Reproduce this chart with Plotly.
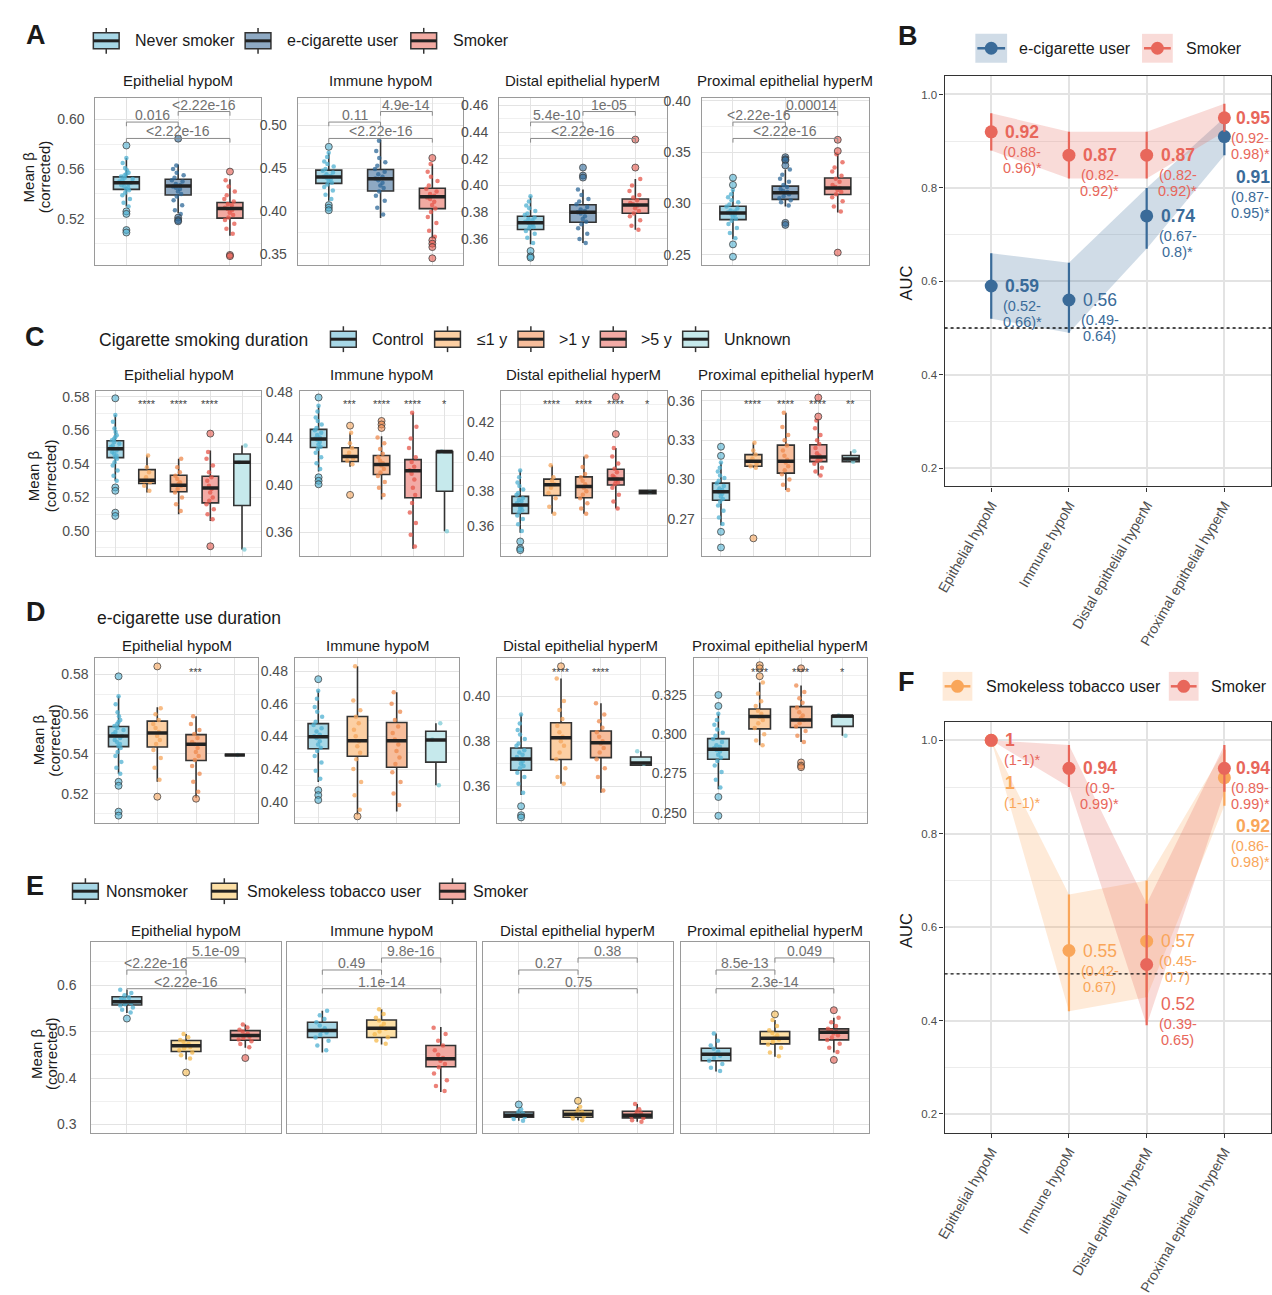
import plotly.graph_objects as go

W, H = 1272, 1295
FONT = "Liberation Sans, Arial, Helvetica, sans-serif"
TXT = "#1a1a1a"
TICK = "#4d4d4d"
GRID = "#e3e3e3"
GRID_MINOR = "#f0f0f0"
BORDER = "#9a9a9a"
BOXLINE = "#333333"

MODULES = ["Epithelial hypoM", "Immune hypoM", "Distal epithelial hyperM", "Proximal epithelial hyperM"]

# ---------------------------------------------------------------------------
# Box summaries: [lower whisker, Q1, median, Q3, upper whisker] per module
# ---------------------------------------------------------------------------
NEVER_BOX = [[0.530, 0.5437, 0.549, 0.5538, 0.569],
             [0.412, 0.4324, 0.4397, 0.4478, 0.468],
             [0.356, 0.3671, 0.3721, 0.3770, 0.392],
             [0.265, 0.2841, 0.2905, 0.2972, 0.313]]
NEVER_OUT = [[0.579, 0.526, 0.524, 0.511, 0.509], [0.475, 0.407, 0.404, 0.401],
             [0.351, 0.347, 0.346], [0.325, 0.318, 0.260, 0.248]]
NEVER_PTS = [[0.569, 0.565, 0.561, 0.559, 0.557, 0.556, 0.555, 0.554, 0.553, 0.552, 0.551, 0.550, 0.549,
              0.549, 0.548, 0.547, 0.546, 0.545, 0.544, 0.543, 0.541, 0.539, 0.536, 0.533, 0.530],
             [0.468, 0.463, 0.458, 0.455, 0.452, 0.449, 0.447, 0.445, 0.443, 0.441, 0.440, 0.439, 0.437,
              0.435, 0.433, 0.431, 0.428, 0.424, 0.419, 0.414],
             [0.392, 0.388, 0.385, 0.383, 0.381, 0.379, 0.378, 0.376, 0.375, 0.374, 0.373, 0.372, 0.371,
              0.370, 0.369, 0.368, 0.366, 0.364, 0.361, 0.357],
             [0.313, 0.309, 0.306, 0.303, 0.301, 0.299, 0.297, 0.295, 0.293, 0.292, 0.291, 0.290, 0.289,
              0.287, 0.285, 0.283, 0.280, 0.276, 0.271, 0.266]]

ECIG_BOX = [[0.5245, 0.5392, 0.5464, 0.5518, 0.5638],
            [0.392, 0.4234, 0.4377, 0.4486, 0.4834],
            [0.357, 0.3725, 0.3800, 0.3857, 0.397],
            [0.297, 0.3039, 0.3103, 0.3168, 0.333]]
ECIG_OUT = [[0.5845, 0.521, 0.519, 0.518], [], [0.4135, 0.4075, 0.406],
            [0.345, 0.343, 0.342, 0.337, 0.281, 0.279]]
ECIG_PTS = [[0.563, 0.560, 0.557, 0.555, 0.553, 0.551, 0.550, 0.548, 0.547, 0.546, 0.545, 0.544, 0.542,
             0.540, 0.538, 0.535, 0.531, 0.527, 0.524],
            [0.482, 0.470, 0.462, 0.457, 0.453, 0.449, 0.446, 0.443, 0.440, 0.438, 0.436, 0.433, 0.430,
             0.427, 0.423, 0.418, 0.412, 0.404, 0.396],
            [0.397, 0.393, 0.390, 0.388, 0.386, 0.384, 0.382, 0.381, 0.380, 0.379, 0.377, 0.375, 0.373,
             0.371, 0.368, 0.364, 0.360, 0.357],
            [0.333, 0.328, 0.324, 0.321, 0.318, 0.316, 0.314, 0.312, 0.311, 0.310, 0.309, 0.307, 0.305,
             0.303, 0.301, 0.298]]

SMOKER_BOX = [[0.5064, 0.5206, 0.5283, 0.5331, 0.5518],
              [0.368, 0.4029, 0.4168, 0.4266, 0.455],
              [0.367, 0.3793, 0.3855, 0.3900, 0.405],
              [0.291, 0.3087, 0.3151, 0.3248, 0.348]]
SMOKER_OUT = [[0.558, 0.491, 0.490], [0.462, 0.366, 0.362, 0.358, 0.345],
              [0.4135, 0.4345], [0.362, 0.351, 0.252]]
SMOKER_PTS = [[0.551, 0.546, 0.542, 0.539, 0.536, 0.534, 0.532, 0.531, 0.529, 0.528, 0.527, 0.525, 0.523,
               0.521, 0.519, 0.516, 0.512, 0.508],
              [0.455, 0.446, 0.440, 0.435, 0.430, 0.426, 0.423, 0.420, 0.418, 0.416, 0.414, 0.411, 0.407,
               0.403, 0.399, 0.393, 0.386, 0.377, 0.370],
              [0.405, 0.400, 0.396, 0.393, 0.391, 0.389, 0.387, 0.386, 0.385, 0.383, 0.381, 0.379, 0.377,
               0.374, 0.370, 0.367],
              [0.348, 0.340, 0.335, 0.331, 0.327, 0.324, 0.321, 0.318, 0.316, 0.315, 0.313, 0.311, 0.309,
               0.306, 0.302, 0.297, 0.292]]

# Cigarette smoking duration groups
CIG_LE1_BOX = [[0.523, 0.5283, 0.5302, 0.5366, 0.545],
               [0.416, 0.4205, 0.4248, 0.4321, 0.445],
               [0.367, 0.3775, 0.3838, 0.3870, 0.395],
               [0.309, 0.3101, 0.3139, 0.3189, 0.328]]
CIG_LE1_OUT = [[], [0.451, 0.392], [], [0.255]]
CIG_LE1_PTS = [[0.545, 0.538, 0.535, 0.532, 0.530, 0.529, 0.527, 0.524],
               [0.445, 0.436, 0.432, 0.428, 0.425, 0.423, 0.421, 0.418],
               [0.395, 0.388, 0.386, 0.384, 0.382, 0.379, 0.376, 0.371, 0.367],
               [0.328, 0.322, 0.319, 0.316, 0.314, 0.312, 0.310, 0.309]]

CIG_GT1_BOX = [[0.510, 0.5234, 0.5273, 0.5332, 0.543],
               [0.388, 0.4094, 0.4179, 0.4255, 0.442],
               [0.367, 0.3762, 0.3827, 0.3883, 0.400],
               [0.292, 0.3048, 0.3139, 0.3262, 0.351]]
CIG_GT1_OUT = [[], [0.455, 0.452, 0.449], [], []]
CIG_GT1_PTS = [[0.543, 0.538, 0.535, 0.533, 0.531, 0.529, 0.528, 0.527, 0.525, 0.523, 0.520, 0.516, 0.512],
               [0.441, 0.436, 0.431, 0.427, 0.424, 0.421, 0.419, 0.417, 0.414, 0.411, 0.408, 0.403, 0.398, 0.392],
               [0.400, 0.394, 0.390, 0.388, 0.386, 0.384, 0.382, 0.380, 0.378, 0.376, 0.373, 0.370, 0.367],
               [0.351, 0.340, 0.334, 0.330, 0.326, 0.322, 0.318, 0.315, 0.313, 0.310, 0.307, 0.304, 0.300,
                0.296, 0.292]]

CIG_GT5_BOX = [[0.506, 0.5168, 0.5257, 0.5326, 0.548],
               [0.346, 0.3895, 0.4126, 0.4220, 0.462],
               [0.370, 0.3836, 0.3870, 0.3927, 0.405],
               [0.303, 0.3136, 0.3171, 0.3265, 0.346]]
CIG_GT5_OUT = [[0.558, 0.491], [], [0.413, 0.4345], [0.348, 0.3625]]
CIG_GT5_PTS = [[0.547, 0.543, 0.539, 0.535, 0.532, 0.530, 0.527, 0.525, 0.523, 0.520, 0.518, 0.516, 0.513,
                0.510, 0.507],
               [0.462, 0.450, 0.440, 0.432, 0.424, 0.420, 0.416, 0.413, 0.410, 0.405, 0.398, 0.392, 0.385,
                0.377, 0.368, 0.358, 0.348],
               [0.405, 0.400, 0.396, 0.393, 0.391, 0.389, 0.388, 0.387, 0.386, 0.385, 0.384, 0.382, 0.378,
                0.374, 0.370],
               [0.345, 0.339, 0.334, 0.330, 0.327, 0.324, 0.320, 0.318, 0.317, 0.315, 0.314, 0.312, 0.309,
                0.306, 0.303]]

CIG_UNK_BOX = [[0.489, 0.5152, 0.5409, 0.5459, 0.551],
               [0.361, 0.3951, 0.4289, 0.4289, 0.4289],
               [0.3785, 0.3785, 0.3795, 0.3805, 0.3805],
               [0.3135, 0.3135, 0.3155, 0.3183, 0.3215]]
CIG_UNK_OUT = [[], [], [], []]
CIG_UNK_PTS = [[0.551, 0.541, 0.489], [0.429, 0.361], [0.3795], [0.3215, 0.3155, 0.3135]]

# e-cigarette use duration groups
EC_LE1_BOX = [[0.526, 0.5435, 0.5505, 0.5565, 0.5635],
              [0.392, 0.4278, 0.4373, 0.4522, 0.483],
              [0.361, 0.3719, 0.3816, 0.3883, 0.408],
              [0.293, 0.3034, 0.3113, 0.3161, 0.333]]
EC_LE1_OUT = [[0.584, 0.5185], [0.391], [0.4135], [0.344, 0.342, 0.337]]
EC_LE1_PTS = [[0.563, 0.560, 0.557, 0.555, 0.553, 0.551, 0.549, 0.547, 0.545, 0.542, 0.538, 0.533, 0.527],
              [0.483, 0.462, 0.456, 0.452, 0.448, 0.444, 0.440, 0.437, 0.434, 0.430, 0.426, 0.420, 0.412,
               0.404, 0.395],
              [0.408, 0.398, 0.394, 0.390, 0.387, 0.384, 0.382, 0.380, 0.378, 0.375, 0.372, 0.368, 0.364, 0.361],
              [0.333, 0.326, 0.321, 0.318, 0.315, 0.313, 0.311, 0.309, 0.307, 0.304, 0.300, 0.296, 0.293]]

EC_GT1_BOX = [[0.518, 0.5367, 0.5449, 0.5497, 0.559],
              [0.394, 0.4211, 0.4373, 0.4485, 0.467],
              [0.357, 0.3727, 0.3793, 0.3846, 0.397],
              [0.295, 0.3043, 0.3091, 0.3176, 0.331]]
EC_GT1_OUT = [[0.5175], [], [], [0.342, 0.282, 0.280, 0.279]]
EC_GT1_PTS = [[0.559, 0.555, 0.552, 0.550, 0.548, 0.546, 0.545, 0.543, 0.541, 0.539, 0.537, 0.534, 0.530,
               0.526, 0.521],
              [0.467, 0.460, 0.455, 0.450, 0.446, 0.442, 0.438, 0.435, 0.431, 0.427, 0.423, 0.418, 0.412,
               0.405, 0.398],
              [0.397, 0.392, 0.389, 0.386, 0.384, 0.382, 0.380, 0.379, 0.377, 0.375, 0.372, 0.368, 0.364, 0.358],
              [0.331, 0.327, 0.323, 0.320, 0.317, 0.314, 0.312, 0.310, 0.309, 0.307, 0.305, 0.302, 0.299, 0.295]]

EC_UNK_BOX = [[0.5395, 0.5395, 0.5395, 0.5395, 0.5395],
              [0.410, 0.4242, 0.4377, 0.4431, 0.448],
              [0.369, 0.3693, 0.3703, 0.3730, 0.3755],
              [0.299, 0.3050, 0.3117, 0.3117, 0.312]]
EC_UNK_OUT = [[], [], [], []]
EC_UNK_PTS = [[0.5395], [0.448, 0.438, 0.410], [0.3755, 0.370], [0.312, 0.299]]

# Smokeless tobacco cohort
E_NON_BOX = [[0.540, 0.5571, 0.5643, 0.575, 0.590],
             [0.455, 0.4871, 0.5021, 0.520, 0.545],
             [0.308, 0.3157, 0.3200, 0.327, 0.333],
             [0.414, 0.4371, 0.4514, 0.4642, 0.496]]
E_NON_OUT = [[0.528], [], [0.343], []]
E_NON_PTS = [[0.590, 0.583, 0.578, 0.574, 0.571, 0.568, 0.565, 0.563, 0.561, 0.559, 0.556, 0.552, 0.547, 0.541],
             [0.545, 0.535, 0.527, 0.520, 0.513, 0.507, 0.502, 0.498, 0.493, 0.487, 0.480, 0.470, 0.460],
             [0.333, 0.328, 0.324, 0.321, 0.319, 0.316, 0.312, 0.308],
             [0.496, 0.480, 0.470, 0.463, 0.457, 0.452, 0.448, 0.443, 0.437, 0.430, 0.422, 0.415]]

E_SLT_BOX = [[0.440, 0.4571, 0.4693, 0.4807, 0.495],
             [0.472, 0.4871, 0.5070, 0.525, 0.548],
             [0.309, 0.3157, 0.3220, 0.330, 0.338],
             [0.446, 0.4736, 0.4857, 0.500, 0.525]]
E_SLT_OUT = [[0.412], [], [0.351], [0.537]]
E_SLT_PTS = [[0.495, 0.488, 0.482, 0.478, 0.474, 0.470, 0.467, 0.464, 0.460, 0.455, 0.449, 0.442],
             [0.548, 0.538, 0.530, 0.524, 0.517, 0.511, 0.506, 0.500, 0.494, 0.488, 0.481, 0.474],
             [0.338, 0.331, 0.327, 0.323, 0.320, 0.317, 0.313, 0.309],
             [0.525, 0.512, 0.503, 0.497, 0.492, 0.487, 0.483, 0.478, 0.472, 0.465, 0.455, 0.447]]

E_SMK_BOX = [[0.465, 0.4814, 0.4914, 0.5021, 0.515],
             [0.370, 0.4243, 0.4414, 0.4699, 0.510],
             [0.306, 0.3143, 0.3200, 0.3286, 0.344],
             [0.455, 0.4821, 0.4986, 0.5057, 0.530]]
E_SMK_OUT = [[0.443], [], [], [0.546, 0.439]]
E_SMK_PTS = [[0.515, 0.509, 0.504, 0.500, 0.496, 0.492, 0.489, 0.486, 0.483, 0.479, 0.473, 0.466],
             [0.508, 0.495, 0.480, 0.470, 0.460, 0.450, 0.443, 0.437, 0.430, 0.423, 0.410, 0.395, 0.383, 0.372],
             [0.344, 0.333, 0.328, 0.324, 0.321, 0.318, 0.314, 0.309, 0.306],
             [0.530, 0.520, 0.512, 0.506, 0.502, 0.499, 0.496, 0.492, 0.487, 0.482, 0.474, 0.465, 0.456]]

# Wilcoxon p-values: (1 vs 2, 2 vs 3, 1 vs 3)
A_PVALS = [["0.016", "&lt;2.22e-16", "&lt;2.22e-16"],
           ["0.11", "4.9e-14", "&lt;2.22e-16"],
           ["5.4e-10", "1e-05", "&lt;2.22e-16"],
           ["&lt;2.22e-16", "0.00014", "&lt;2.22e-16"]]
E_PVALS = [["&lt;2.22e-16", "5.1e-09", "&lt;2.22e-16"],
           ["0.49", "9.8e-16", "1.1e-14"],
           ["0.27", "0.38", "0.75"],
           ["8.5e-13", "0.049", "2.3e-14"]]
C_STARS = [["", "****", "****", "****", ""],
           ["", "***", "****", "****", "*"],
           ["", "****", "****", "****", "*"],
           ["", "****", "****", "****", "**"]]
D_STARS = [["", "", "***", ""],
           ["", "", "", ""],
           ["", "****", "****", ""],
           ["", "****", "****", "*"]]

# AUC (95% CI) per module
B_ECIG_AUC = [0.59, 0.56, 0.74, 0.91]
B_ECIG_LO = [0.52, 0.49, 0.67, 0.87]
B_ECIG_HI = [0.66, 0.64, 0.80, 0.95]
B_SMOKER_AUC = [0.92, 0.87, 0.87, 0.95]
B_SMOKER_LO = [0.88, 0.82, 0.82, 0.92]
B_SMOKER_HI = [0.96, 0.92, 0.92, 0.98]
F_SLT_AUC = [1, 0.55, 0.57, 0.92]
F_SLT_LO = [1, 0.42, 0.45, 0.86]
F_SLT_HI = [1, 0.67, 0.70, 0.98]
F_SMOKER_AUC = [1, 0.94, 0.52, 0.94]
F_SMOKER_LO = [1, 0.90, 0.39, 0.89]
F_SMOKER_HI = [1, 0.99, 0.65, 0.99]

# ---------------------------------------------------------------------------
# Styling
# ---------------------------------------------------------------------------
COL = {
    "never": ("#a7d7e6", "#4fb0d2"),
    "ecig": ("#8ea9c3", "#2d6898"),
    "smoker": ("#f2aaa2", "#e5574b"),
    "le1": ("#fccfa3", "#f6a55c"),
    "gt1": ("#f7bd9b", "#ee8a4e"),
    "gt5": ("#f2aaa5", "#e5574b"),
    "unk": ("#c6e9ec", "#7ccad4"),
    "slt": ("#fde0a6", "#f5b94d"),
}
ECIG_LINE = "#3a6b99"
SMOKER_LINE = "#e8675b"
SLT_LINE = "#f9a65a"

B_DROP_ECIG = [0, 0, 0, 40]
B_DROP_SMOKER = [0, 0, 0, 0]
F_DROP_SLT = [43, 0, 0, 48]
F_DROP_SMOKER = [0, 0, 39, 0]
VALUE_XSHIFT = [12, 12, 12, 10]
CI_XSHIFT = [31, 31, 31, 26]

fig = go.Figure()
axes = {}
ann = []
shp = []


def px_x(p):
    return p / W


def px_y(p):
    return 1 - p / H


def ids(k):
    s = "" if k == 1 else str(k)
    return "xaxis" + s, "yaxis" + s, "x" + s, "y" + s


def rgba(hexc, a):
    h = hexc.lstrip("#")
    r, g, b = int(h[0:2], 16), int(h[2:4], 16), int(h[4:6], 16)
    return f"rgba({r},{g},{b},{a})"


def text(x, y, s, size=16, color=TXT, bold=False, xanchor="left", yanchor="middle", angle=0):
    ann.append(dict(x=px_x(x), y=px_y(y), xref="paper", yref="paper",
                    text=f"<b>{s}</b>" if bold else s, showarrow=False,
                    xanchor=xanchor, yanchor=yanchor, textangle=angle,
                    font=dict(size=size, color=color, family=FONT)))


def pshape(kind, x0, y0, x1, y1, **kw):
    shp.append(dict(type=kind, xref="paper", yref="paper",
                    x0=px_x(x0), x1=px_x(x1), y0=px_y(y0), y1=px_y(y1), **kw))


def box_key(x0, yc, fill):
    w, h, wh = 26, 16, 5
    pshape("line", x0 + w / 2, yc - h / 2 - wh, x0 + w / 2, yc + h / 2 + wh,
           line=dict(color=BOXLINE, width=1.5))
    pshape("rect", x0, yc - h / 2, x0 + w, yc + h / 2, fillcolor=fill,
           line=dict(color=BOXLINE, width=1.5))
    pshape("line", x0, yc, x0 + w, yc, line=dict(color="#222222", width=3))


def auc_key(x0, x1, yc, color):
    pshape("rect", x0, yc - 14.5, x1, yc + 14.5, fillcolor=rgba(color, 0.24), line=dict(width=0))
    pshape("line", x0 + 2, yc, x1 - 2, yc, line=dict(color=color, width=2.5))
    xc = (x0 + x1) / 2
    pshape("circle", xc - 6.5, yc - 6.5, xc + 6.5, yc + 6.5, fillcolor=color, line=dict(width=0))


def box_panel(k, xs, ys, groups, module, yspec, show_labels=True, bw=0.5, standoff=7):
    xa, ya, xr, yr = ids(k)
    n = len(groups)
    yrange, tick0, dtick, fmt = yspec
    axes[xa] = dict(domain=[px_x(xs[0]), px_x(xs[1])], anchor=yr, range=[0.4, n + 0.6],
                    tickmode="array", tickvals=list(range(1, n + 1)), showticklabels=False, ticks="",
                    showgrid=True, gridcolor=GRID, gridwidth=1.4, zeroline=False,
                    showline=True, mirror=True, linecolor=BORDER, linewidth=1)
    axes[ya] = dict(domain=[px_y(ys[1]), px_y(ys[0])], anchor=xr, range=yrange,
                    tick0=tick0, dtick=dtick, tickformat=fmt, showticklabels=show_labels, ticks="",
                    ticklabelstandoff=standoff,
                    tickfont=dict(size=14, color=TICK, family=FONT),
                    showgrid=True, gridcolor=GRID, gridwidth=1.4,
                    minor=dict(tick0=tick0, dtick=dtick / 2, showgrid=True,
                               gridcolor=GRID_MINOR, gridwidth=1),
                    zeroline=False, showline=True, mirror=True, linecolor=BORDER, linewidth=1)
    for i, (box, outl, pts, ckey) in enumerate(groups, start=1):
        lo, q1, med, q3, hi = box[module]
        fill, ptc = COL[ckey]
        fig.add_trace(go.Box(x=[i], q1=[q1], median=[med], q3=[q3], lowerfence=[lo], upperfence=[hi],
                             width=bw, fillcolor=fill, line=dict(color=BOXLINE, width=1.6),
                             whiskerwidth=0, boxpoints=False, orientation="v",
                             xaxis=xr, yaxis=yr, showlegend=False, hoverinfo="skip"))
        p = pts[module]
        fig.add_trace(go.Box(x=[i] * len(p), y=p, boxpoints="all", jitter=0.55, pointpos=0,
                             width=bw, fillcolor="rgba(0,0,0,0)",
                             line=dict(width=0, color="rgba(0,0,0,0)"),
                             marker=dict(color=ptc, size=4.5, opacity=0.75),
                             xaxis=xr, yaxis=yr, showlegend=False, hoverinfo="skip"))
        fig.add_trace(go.Scatter(x=[i - bw / 2, i + bw / 2], y=[med, med], mode="lines",
                                 line=dict(color="#222222", width=3.5),
                                 xaxis=xr, yaxis=yr, showlegend=False, hoverinfo="skip"))
        o = outl[module]
        if o:
            fig.add_trace(go.Scatter(x=[i] * len(o), y=o, mode="markers",
                                     marker=dict(size=7, color=rgba(ptc, 0.6),
                                                 line=dict(color="rgba(60,60,60,0.75)", width=1)),
                                     xaxis=xr, yaxis=yr, showlegend=False, hoverinfo="skip"))
    return xr, yr


def brackets(xr, yr, pvals):
    fracs = [0.853, 0.916, 0.755]
    for (a, b), f, t in zip([(1, 2), (2, 3), (1, 3)], fracs, pvals):
        ln = dict(color="#8a8a8a", width=1)
        shp.append(dict(type="line", xref=xr, yref=yr + " domain", x0=a, x1=b, y0=f, y1=f, line=ln))
        for xx in (a, b):
            shp.append(dict(type="line", xref=xr, yref=yr + " domain", x0=xx, x1=xx,
                            y0=f, y1=f - 0.025, line=ln))
        ann.append(dict(x=(a + b) / 2, y=f, xref=xr, yref=yr + " domain", text=t, showarrow=False,
                        xanchor="center", yanchor="bottom", yshift=-3,
                        font=dict(size=14, color="#707070", family=FONT)))


def stars(xr, yr, labels):
    for i, s in enumerate(labels, start=1):
        if s:
            ann.append(dict(x=i, y=0.92, xref=xr, yref=yr + " domain", text=s, showarrow=False,
                            xanchor="center", yanchor="middle",
                            font=dict(size=11, color="#444444", family=FONT)))


# ---------------------------------------------------------------------------
# Box-plot rows
# ---------------------------------------------------------------------------
ROW_A = [(NEVER_BOX, NEVER_OUT, NEVER_PTS, "never"), (ECIG_BOX, ECIG_OUT, ECIG_PTS, "ecig"),
         (SMOKER_BOX, SMOKER_OUT, SMOKER_PTS, "smoker")]
ROW_C = [(NEVER_BOX, NEVER_OUT, NEVER_PTS, "never"), (CIG_LE1_BOX, CIG_LE1_OUT, CIG_LE1_PTS, "le1"),
         (CIG_GT1_BOX, CIG_GT1_OUT, CIG_GT1_PTS, "gt1"), (CIG_GT5_BOX, CIG_GT5_OUT, CIG_GT5_PTS, "gt5"),
         (CIG_UNK_BOX, CIG_UNK_OUT, CIG_UNK_PTS, "unk")]
ROW_D = [(NEVER_BOX, NEVER_OUT, NEVER_PTS, "never"), (EC_LE1_BOX, EC_LE1_OUT, EC_LE1_PTS, "le1"),
         (EC_GT1_BOX, EC_GT1_OUT, EC_GT1_PTS, "gt1"), (EC_UNK_BOX, EC_UNK_OUT, EC_UNK_PTS, "unk")]
ROW_E = [(E_NON_BOX, E_NON_OUT, E_NON_PTS, "never"), (E_SLT_BOX, E_SLT_OUT, E_SLT_PTS, "slt"),
         (E_SMK_BOX, E_SMK_OUT, E_SMK_PTS, "smoker")]

A_X = [(86, 253), (290, 457), (493, 662), (697, 866)]
C_X = [(87, 253), (292, 457), (495, 662), (697, 867)]
D_X = [(86, 250), (287, 453), (491, 660), (689, 864)]
E_X = [(82, 273), (279, 470), (477, 668), (676, 866)]
A_Y, C_Y, D_Y, E_Y = (91, 259), (386, 552), (655, 820), (940, 1132)

A_YSPEC = [([0.4832, 0.6176], 0.52, 0.04, ".2f"), ([0.3376, 0.5325], 0.35, 0.05, ".2f"),
           ([0.3408, 0.466], 0.36, 0.02, ".2f"), ([0.2403, 0.4032], 0.25, 0.05, ".2f")]
C_YSPEC = [([0.4852, 0.5834], 0.50, 0.02, ".2f"), ([0.3399, 0.4806], 0.36, 0.04, ".2f"),
           ([0.3426, 0.4379], 0.36, 0.02, ".2f"), ([0.2415, 0.3676], 0.27, 0.03, ".2f")]
D_YSPEC = [([0.5055, 0.588], 0.52, 0.02, ".2f"), ([0.3872, 0.4877], 0.40, 0.02, ".2f"),
           ([0.3437, 0.417], 0.36, 0.02, ".2f"), ([0.2437, 0.3483], 0.25, 0.025, ".3f")]
E_YSPEC = ([0.282, 0.6929], 0.3, 0.1, ".1f")

k = 1
for m in range(4):
    xr, yr = box_panel(k, A_X[m], A_Y, ROW_A, m, A_YSPEC[m], bw=0.5, standoff=7)
    brackets(xr, yr, A_PVALS[m])
    text(sum(A_X[m]) / 2, 74, MODULES[m], size=15, xanchor="center")
    k += 1
for m in range(4):
    xr, yr = box_panel(k, C_X[m], C_Y, ROW_C, m, C_YSPEC[m], bw=0.52, standoff=3)
    stars(xr, yr, C_STARS[m])
    text(sum(C_X[m]) / 2, 369, MODULES[m], size=15, xanchor="center")
    k += 1
for m in range(4):
    xr, yr = box_panel(k, D_X[m], D_Y, ROW_D, m, D_YSPEC[m], bw=0.52, standoff=3)
    stars(xr, yr, D_STARS[m])
    text(sum(D_X[m]) / 2, 642, MODULES[m], size=15, xanchor="center")
    k += 1
for m in range(4):
    xr, yr = box_panel(k, E_X[m], E_Y, ROW_E, m, E_YSPEC, show_labels=(m == 0), bw=0.5, standoff=11)
    brackets(xr, yr, E_PVALS[m])
    text(sum(E_X[m]) / 2, 929, MODULES[m], size=15, xanchor="center")
    k += 1

# y-axis titles of the box rows, one rotated line each for tighter spacing
for x1, x2, yc in [(18.5, 34.5, 171), (24, 41, 471), (28.5, 44, 737), (27, 42, 1052)]:
    text(x1, yc, "Mean β", size=15, xanchor="center", angle=-90)
    text(x2, yc, "(corrected)", size=15, xanchor="center", angle=-90)


# ---------------------------------------------------------------------------
# AUC panels
# ---------------------------------------------------------------------------
def auc_panel(k, xs, ys, yrange, series):
    xa, ya, xr, yr = ids(k)
    axes[xa] = dict(domain=[px_x(xs[0]), px_x(xs[1])], anchor=yr, range=[0.4, 4.6],
                    tickmode="array", tickvals=[1, 2, 3, 4], ticktext=MODULES, tickangle=-60,
                    ticks="outside", ticklen=4, tickwidth=1.3, tickcolor="#333333",
                    tickfont=dict(size=14, color=TICK, family=FONT),
                    showgrid=True, gridcolor=GRID, gridwidth=1.5, zeroline=False,
                    showline=True, mirror=True, linecolor="#333333", linewidth=1.3)
    axes[ya] = dict(domain=[px_y(ys[1]), px_y(ys[0])], anchor=xr, range=yrange,
                    tick0=0.2, dtick=0.2, tickformat=".1f", ticks="outside", ticklen=4,
                    tickwidth=1.3, tickcolor="#333333",
                    tickfont=dict(size=11.5, color=TICK, family=FONT),
                    showgrid=True, gridcolor=GRID, gridwidth=1.5,
                    minor=dict(tick0=0.2, dtick=0.1, showgrid=True, gridcolor="#ececec", gridwidth=1),
                    zeroline=False, showline=True, mirror=True, linecolor="#333333", linewidth=1.3)
    cats = [1, 2, 3, 4]
    for vals, lo, hi, color, drop in series:
        fig.add_trace(go.Scatter(x=cats, y=hi, mode="lines", line=dict(width=0), xaxis=xr, yaxis=yr,
                                 showlegend=False, hoverinfo="skip"))
        fig.add_trace(go.Scatter(x=cats, y=lo, mode="lines", line=dict(width=0), fill="tonexty",
                                 fillcolor=rgba(color, 0.24), xaxis=xr, yaxis=yr,
                                 showlegend=False, hoverinfo="skip"))
    shp.append(dict(type="line", xref=xr + " domain", yref=yr, x0=0, x1=1, y0=0.5, y1=0.5,
                    line=dict(color="#111111", width=1.4, dash="dot")))
    for vals, lo, hi, color, drop in series:
        fig.add_trace(go.Scatter(
            x=cats, y=vals, mode="markers",
            marker=dict(size=13, color=color),
            error_y=dict(type="data", symmetric=False,
                         array=[h - v for h, v in zip(hi, vals)],
                         arrayminus=[v - l for v, l in zip(vals, lo)],
                         color=color, thickness=2.2, width=0),
            xaxis=xr, yaxis=yr, showlegend=False, hoverinfo="skip"))
        for j in range(4):
            v, l, h = vals[j], lo[j], hi[j]
            sig = l > 0.5
            vt = f"{v:g}"
            ann.append(dict(x=j + 1, y=v, xref=xr, yref=yr, text=f"<b>{vt}</b>" if sig else vt,
                            showarrow=False, xanchor="left", yanchor="middle", xshift=VALUE_XSHIFT[j],
                            yshift=-drop[j], font=dict(size=17.5, color=color, family=FONT)))
            star = "*" if sig else ""
            lines = [f"({l:g}-{h:g}){star}"] if l == h else [f"({l:g}-", f"{h:g}){star}"]
            for n, s in enumerate(lines):
                ann.append(dict(x=j + 1, y=v, xref=xr, yref=yr, text=s, showarrow=False,
                                xanchor="center", yanchor="middle", xshift=CI_XSHIFT[j],
                                yshift=-drop[j] - 20 - 16 * n,
                                font=dict(size=14.5, color=color, family=FONT)))
    return xr, yr


auc_panel(17, (942, 1271), (69, 482), [0.161, 1.0404],
          [(B_ECIG_AUC, B_ECIG_LO, B_ECIG_HI, ECIG_LINE, B_DROP_ECIG),
           (B_SMOKER_AUC, B_SMOKER_LO, B_SMOKER_HI, SMOKER_LINE, B_DROP_SMOKER)])
auc_panel(18, (942, 1271), (719, 1132), [0.1595, 1.039],
          [(F_SLT_AUC, F_SLT_LO, F_SLT_HI, SLT_LINE, F_DROP_SLT),
           (F_SMOKER_AUC, F_SMOKER_LO, F_SMOKER_HI, SMOKER_LINE, F_DROP_SMOKER)])
text(903, 277, "AUC", size=16.5, xanchor="center", angle=-90)
text(903, 928, "AUC", size=16.5, xanchor="center", angle=-90)

# ---------------------------------------------------------------------------
# Legends and panel letters
# ---------------------------------------------------------------------------
for x0, tx, lab, ck in [(84, 124, "Never smoker", "never"), (237, 277, "e-cigarette user", "ecig"),
                        (404, 444, "Smoker", "smoker")]:
    box_key(x0, 34, COL[ck][0])
    text(tx, 34, lab, size=16)

text(88, 335, "Cigarette smoking duration", size=17.5)
for x0, tx, lab, ck in [(323, 363, "Control", "never"), (428, 469, "≤1 y", "le1"),
                        (512, 551, "&gt;1 y", "gt1"), (595, 634, "&gt;5 y", "gt5"),
                        (678, 718, "Unknown", "unk")]:
    box_key(x0, 334, COL[ck][0])
    text(tx, 334, lab, size=16)

text(86, 614, "e-cigarette use duration", size=17.5)

for x0, tx, lab, ck in [(63, 95, "Nonsmoker", "never"), (203, 237, "Smokeless tobacco user", "slt"),
                        (433, 465, "Smoker", "smoker")]:
    box_key(x0, 889, COL[ck][0])
    text(tx, 889, lab, size=16)

auc_key(973, 1005, 41.5, ECIG_LINE)
text(1015, 41.5, "e-cigarette user", size=16)
auc_key(1141, 1172, 41.5, SMOKER_LINE)
text(1183, 41.5, "Smoker", size=16)

auc_key(940, 970, 683, SLT_LINE)
text(982, 683, "Smokeless tobacco user", size=16)
auc_key(1168, 1198, 683, SMOKER_LINE)
text(1209, 683, "Smoker", size=16)

for lx, ly, letter in [(26, 28, "A"), (905, 29, "B"), (25, 332, "C"), (26, 608, "D"),
                       (25, 884, "E"), (904, 679, "F")]:
    text(lx, ly, letter, size=27, bold=True, xanchor="center")

fig.update_layout(
    width=W, height=H, autosize=False,
    margin=dict(l=0, r=0, t=0, b=0),
    paper_bgcolor="white", plot_bgcolor="white",
    showlegend=False, boxmode="overlay",
    font=dict(family=FONT, color=TXT),
    annotations=ann, shapes=shp,
    **axes,
)

# the page body carries no default spacing so the figure sits flush at the top-left corner
fig.write_html("out.html", post_script="document.body.style.margin='0';document.body.style.padding='0';")
